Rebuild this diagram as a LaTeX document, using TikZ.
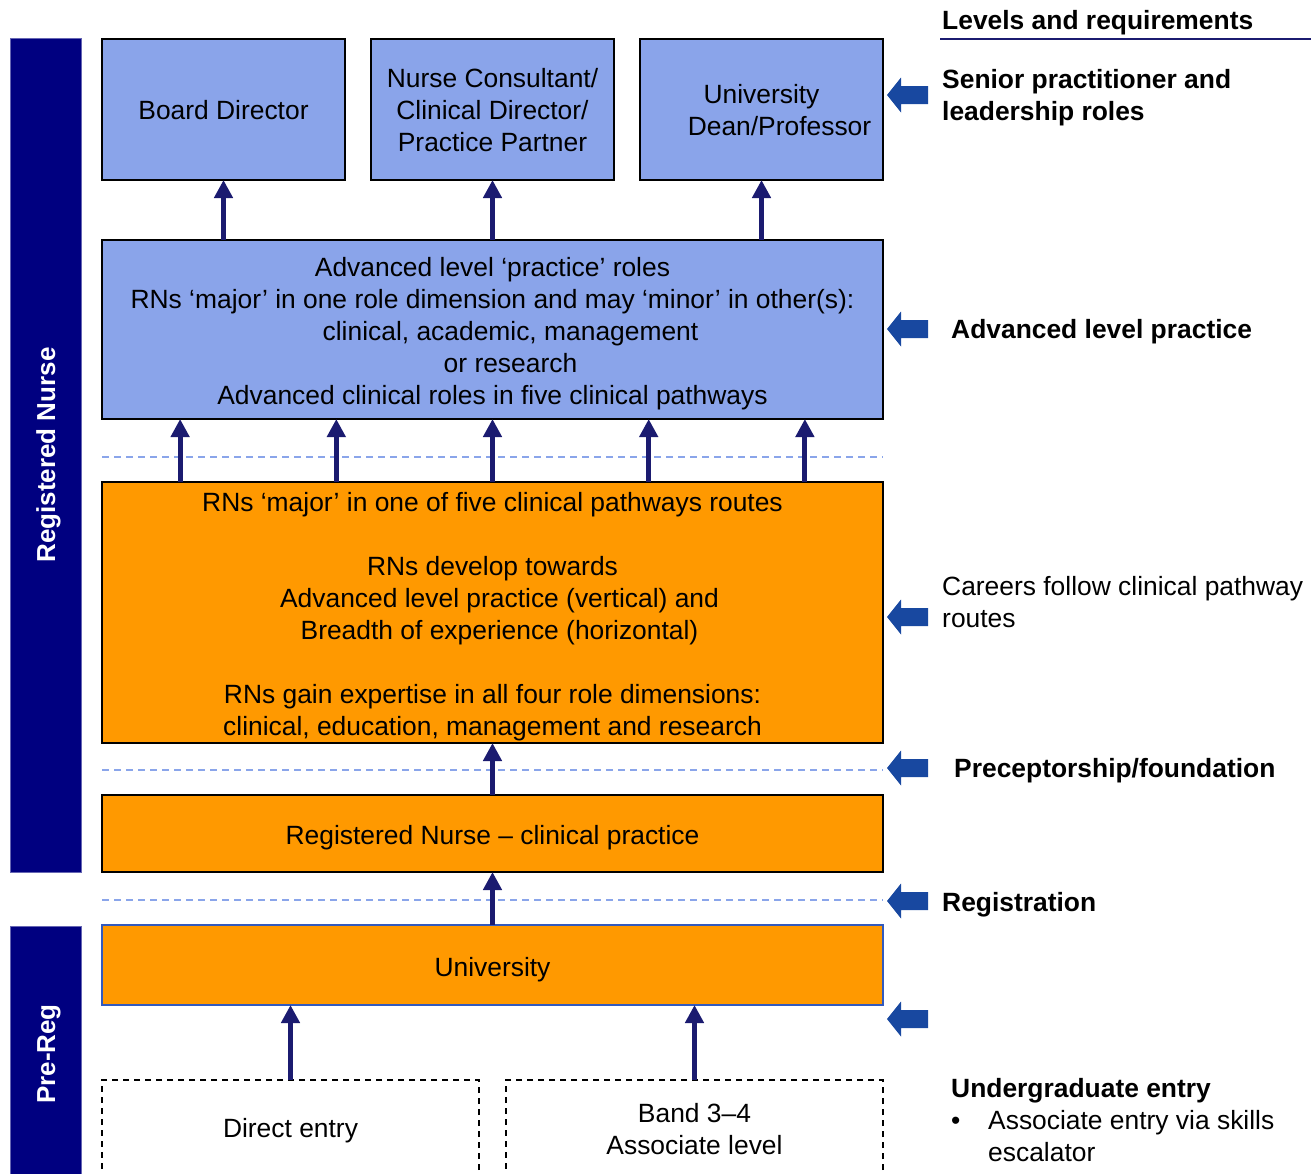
\documentclass[tikz,border=0pt]{standalone}
\usepackage{fontspec}
\setmainfont{Liberation Sans}
\usetikzlibrary{arrows.meta,calc}
\definecolor{boxblue}{RGB}{138,164,234}
\definecolor{boxorange}{RGB}{255,153,0}
\definecolor{barnavy}{RGB}{0,0,128}
\definecolor{arrnavy}{RGB}{27,27,112}
\definecolor{blockblue}{RGB}{24,72,160}
\definecolor{sepblue}{RGB}{138,165,234}
\definecolor{univborder}{RGB}{50,90,190}
\begin{document}
\begin{tikzpicture}[x=1pt,y=-1pt,
  txt/.style={font=\fontsize{26.4}{32}\selectfont},
  bx/.style={draw=black, line width=1.5pt, inner sep=0pt, outer sep=0pt},
  bluebox/.style={bx, fill=boxblue},
  orangebox/.style={bx, fill=boxorange},
  dashbox/.style={bx, dashed, dash pattern=on 6pt off 5pt, line width=1.3pt},
  boxtxt/.style={txt, inner sep=0pt, align=center},
  bar/.style={fill=barnavy, draw=barnavy!60!white, line width=1pt, inner sep=0pt, outer sep=0pt,
    text=white, font=\fontsize{26}{32}\selectfont\bfseries, rotate=90, text height=19pt, text depth=0pt},
  uparr/.style={draw=arrnavy, line width=5pt, -{Triangle[length=18pt,width=18pt]}},
  sepline/.style={draw=sepblue, line width=1.5pt, dash pattern=on 7pt off 5pt},
  rtxt/.style={txt, inner sep=0pt, align=left},
  rbold/.style={rtxt, font=\fontsize{26.4}{32}\selectfont\bfseries}
]
\useasboundingbox (0,0) rectangle (1311,1173);

% left bars
\node[bar, minimum width=834pt, minimum height=71pt] (rnbar) at (45.5,455) {Registered Nurse};
\node[bar, minimum width=256pt, minimum height=71pt] (prebar) at (45.5,1054) {Pre-Reg};

% separators
\draw[sepline] (102,457) -- (883,457);
\draw[sepline] (102,770) -- (883,770);
\draw[sepline] (102,900) -- (883,900);

% top boxes
\node[bluebox, minimum width=243pt, minimum height=141pt] (board) at (223.5,109.5) {};
\node[boxtxt] (boardt) at ([yshift=-1pt]board.center) {Board Director};
\node[bluebox, minimum width=243pt, minimum height=141pt] (consult) at (492.5,109.5) {};
\node[boxtxt] (consultt) at ([yshift=-1pt]consult.center) {Nurse Consultant/\\Clinical Director/\\Practice Partner};
\node[bluebox, minimum width=243pt, minimum height=141pt] (dean) at (761.5,109.5) {};
\node[boxtxt] (deant) at ([yshift=-1pt]dean.center) {University\\\hspace*{36pt}Dean/Professor};

% advanced box
\node[bluebox, minimum width=781pt, minimum height=179pt] (adv) at (492.5,329.5) {};
\node[boxtxt] (advt) at ([yshift=-4pt]adv.center) {Advanced level ‘practice’ roles\\RNs ‘major’ in one role dimension and may ‘minor’ in other(s):\\\hspace*{36pt}clinical, academic, management\\\hspace*{36pt}or research\\Advanced clinical roles in five clinical pathways};

% orange pathways box
\node[orangebox, minimum width=781pt, minimum height=261pt] (path) at (492.5,612.5) {};
\node[boxtxt] (patht) at ([yshift=-4pt]path.center) {RNs ‘major’ in one of five clinical pathways routes\\[32pt]RNs develop towards\\\hspace*{14pt}Advanced level practice (vertical) and\\\hspace*{14pt}Breadth of experience (horizontal)\\[32pt]RNs gain expertise in all four role dimensions:\\clinical, education, management and research};

% RN clinical practice
\node[orangebox, minimum width=781pt, minimum height=77pt] (rncp) at (492.5,833.5) {};
\node[boxtxt] (rncpt) at ([yshift=-4pt]rncp.center) {Registered Nurse – clinical practice};

% University
\node[orangebox, draw=univborder, line width=1.2pt, minimum width=781pt, minimum height=80pt] (univ) at (492.5,965) {};
\node[boxtxt] (univt) at ([yshift=-5pt]univ.center) {University};

% entry boxes
\node[dashbox, minimum width=377pt, minimum height=98pt] (direct) at (290.5,1129) {};
\node[boxtxt] (directt) at ([yshift=-2pt]direct.center) {Direct entry};
\node[dashbox, minimum width=377pt, minimum height=98pt] (band) at (694.5,1129) {};
\node[boxtxt] (bandt) at (band.center) {Band 3–4\\Associate level};

% arrows to top boxes
\draw[uparr] (board |- adv.north) -- (board.south);
\draw[uparr] (consult |- adv.north) -- (consult.south);
\draw[uparr] (dean |- adv.north) -- (dean.south);

% arrows from pathways to advanced
\foreach \f in {0.1,0.3,0.5,0.7,0.9}{
  \draw[uparr] ($(path.north west)!\f!(path.north east)$) -- ($(adv.south west)!\f!(adv.south east)$);
}
\draw[uparr] (rncp.north) -- (path.south);
\draw[uparr] (univ.north) -- (rncp.south);
\draw[uparr] (direct.north) -- (direct |- univ.south);
\draw[uparr] (band.north) -- (band |- univ.south);

% block arrows on right
\foreach \yy in {95,329,617,768,901,1019}{
  \fill[blockblue] (887,\yy) -- (901,\yy-17.5) -- (901,\yy-9) -- (928,\yy-9) -- (928,\yy+9) -- (901,\yy+9) -- (901,\yy+17.5) -- cycle;
}

% right side texts
\node[rbold, anchor=base west] (hdr) at (942,29) {Levels and requirements};
\draw[draw=arrnavy, line width=1.5pt] (940,39) -- (1311,39);
\node[rbold, anchor=west] (senior) at (942,98) {Senior practitioner and\\leadership roles};
\node[rbold, anchor=base west] (advl) at (951,338) {Advanced level practice};
\node[rtxt, anchor=west] (careers) at (942,602) {Careers follow clinical pathway\\routes};
\node[rbold, anchor=base west] (precep) at (954,777) {Preceptorship/foundation};
\node[rbold, anchor=base west] (regis) at (942,911) {Registration};
\node[rbold, anchor=base west] (ug) at (951,1097) {Undergraduate entry};
\node[rtxt, anchor=base west] (bul) at (951,1129) {•};
\node[rtxt, anchor=base west] (ugtxt) at (988,1129) {Associate entry via skills};
\node[rtxt, anchor=base west] (ugtxt2) at (988,1161) {escalator};
\end{tikzpicture}
\end{document}
